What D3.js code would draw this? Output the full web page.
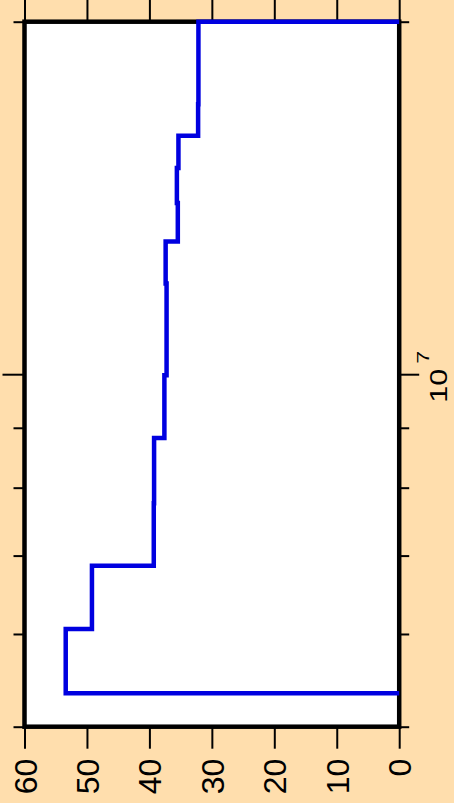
<!DOCTYPE html>
<html>
<head>
<meta charset="utf-8">
<script src="https://cdn.jsdelivr.net/npm/d3@7"></script>
<style>
  html, body { margin: 0; padding: 0; background: #FFDEAD; }
  svg { display: block; }
</style>
</head>
<body>
<svg id="chart" width="454" height="803"></svg>
<script>
// ---- data ----
// layer boundaries along the log axis (bottom to top)
const boundaries = [5.34e6, 6.06e6, 6.86e6, 7.76e6, 8.82e6, 9.98e6, 1.195e7, 1.298e7, 1.40e7, 1.50e7, 1.598e7, 1.70e7, 2.0e7];
// value within each layer
const layerValues = [53.4, 49.2, 39.3, 39.25, 37.6, 37.25, 37.4, 35.45, 35.6, 35.35, 32.2, 32.15];
// value-axis ticks and labels
const valueTicks = [60, 50, 40, 30, 20, 10, 0];
const valueTickLabels = ["60", "50", "40", "30", "20", "10", "0"];
// log-axis ticks
const logTicks = [5e6, 6e6, 7e6, 8e6, 9e6, 1e7, 2e7];
const logMajorTicks = [1e7];
const logLabelBase = "10";
const logLabelExp = "7";

// ---- scales ----
const svg = d3.select("#chart");
const x = d3.scaleLinear().domain([0, 60]).range([399.2, 24.5]);
const y = d3.scaleLog().domain([5e6, 2e7]).range([726.7, 21.7]);

const FONT = "'Liberation Sans', Arial, Helvetica, sans-serif";

// plot area
svg.append("rect")
  .attr("x", x(60)).attr("y", y(2e7))
  .attr("width", x(0) - x(60)).attr("height", y(5e6) - y(2e7))
  .attr("fill", "#ffffff");

// value axis ticks (bottom & top)
const bottomAxis = d3.axisBottom(x).tickValues(valueTicks).tickSize(22).tickFormat("");
const gB = svg.append("g").attr("transform", `translate(0,${y(5e6)})`).call(bottomAxis);
const topAxis = d3.axisTop(x).tickValues(valueTicks).tickSize(22).tickFormat("");
const gT = svg.append("g").attr("transform", `translate(0,${y(2e7)})`).call(topAxis);

// log axis ticks (left & right)
const leftAxis = d3.axisLeft(y).tickValues(logTicks).tickSize(11).tickFormat("");
const gL = svg.append("g").attr("transform", `translate(${x(60)},0)`).call(leftAxis);
gL.selectAll(".tick line").filter(d => logMajorTicks.includes(d)).attr("x2", -22);
const rightAxis = d3.axisRight(y).tickValues(logTicks).tickSize(10).tickFormat("");
const gR = svg.append("g").attr("transform", `translate(${x(0)},0)`).call(rightAxis);
gR.selectAll(".tick line").filter(d => logMajorTicks.includes(d)).attr("x2", 20);

[gB, gT, gL, gR].forEach(g => {
  g.select(".domain").remove();
  g.selectAll(".tick line").attr("stroke", "#000").attr("stroke-width", 2);
});

// value labels (rotated)
gB.selectAll(".tick").append("text")
  .attr("transform", "translate(0,32) rotate(-90)")
  .attr("x", 0).attr("y", 0)
  .attr("dy", "0.36em")
  .attr("text-anchor", "end")
  .attr("fill", "#000")
  .style("font-family", FONT)
  .style("font-size", "32px")
  .text((d, i) => valueTickLabels[valueTicks.indexOf(d)]);

// log label 10^7
gR.selectAll(".tick").filter(d => logMajorTicks.includes(d)).each(function() {
  const g = d3.select(this);
  const lab = g.append("g").attr("transform", "translate(48,28) rotate(-90)");
  lab.append("text")
    .attr("x", 0).attr("y", 0)
    .attr("textLength", 34).attr("lengthAdjust", "spacingAndGlyphs")
    .attr("fill", "#000")
    .style("font-family", FONT).style("font-size", "23px")
    .text(logLabelBase);
  lab.append("text")
    .attr("x", 39).attr("y", -18.5)
    .attr("textLength", 13).attr("lengthAdjust", "spacingAndGlyphs")
    .attr("fill", "#000")
    .style("font-family", FONT).style("font-size", "17px")
    .text(logLabelExp);
});

// frame
svg.append("rect")
  .attr("x", x(60)).attr("y", y(2e7))
  .attr("width", x(0) - x(60)).attr("height", y(5e6) - y(2e7))
  .attr("fill", "none").attr("stroke", "#000").attr("stroke-width", 4.5);

// step profile
const pts = [[0, boundaries[0]]];
layerValues.forEach((v, i) => {
  pts.push([v, boundaries[i]]);
  pts.push([v, boundaries[i + 1]]);
});
pts.push([0, boundaries[boundaries.length - 1]]);

const line = d3.line().x(d => x(d[0])).y(d => y(d[1]));
svg.append("path")
  .attr("d", line(pts))
  .attr("fill", "none")
  .attr("stroke", "#0000e0")
  .attr("stroke-width", 4.5)
  .attr("stroke-linejoin", "miter");
</script>
</body>
</html>
